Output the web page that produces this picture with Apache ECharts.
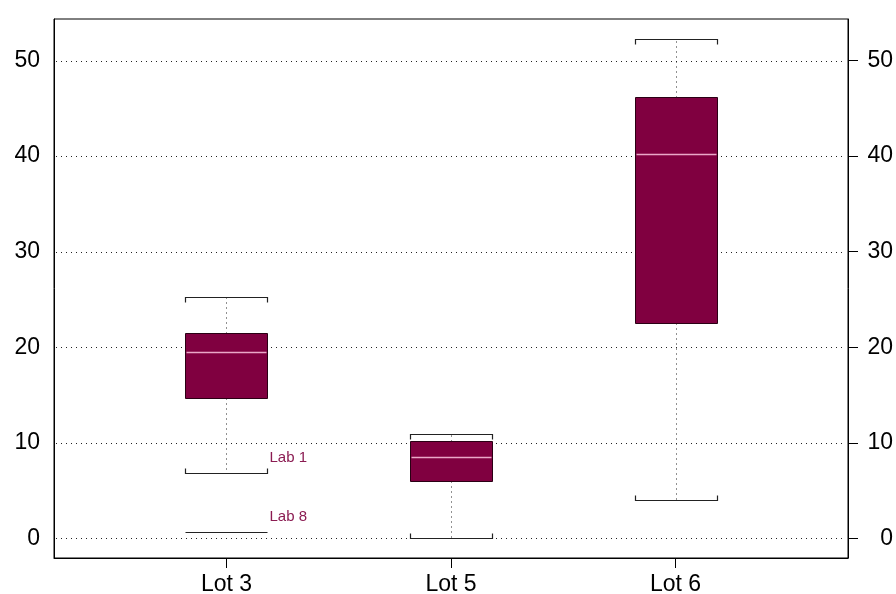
<!DOCTYPE html>
<html>
<head>
<meta charset="utf-8">
<script src="https://cdn.jsdelivr.net/npm/echarts@6/dist/echarts.min.js"></script>
<style>
  html, body { margin: 0; padding: 0; background: #fff; }
  #chart { width: 896px; height: 594px; }
</style>
</head>
<body>
<div id="chart"></div>
<script>
// box statistics per lot
const categories = ["Lot 3", "Lot 5", "Lot 6"];
const whiskerLow = [6.8, 0.0, 4.0];
const q1 = [14.7, 6.0, 22.5];
const median = [19.5, 8.5, 40.2];
const q3 = [21.5, 10.2, 46.2];
const whiskerHigh = [25.3, 10.9, 52.3];

// labelled points (index into categories)
const outlierLot = [0, 0];
const outlierValue = [6.8, 0.7];
const outlierLabel = ["Lab 1", "Lab 8"];

const yTicks = [0, 10, 20, 30, 40, 50];

const X_MIN = 0.232;
const X_MAX = 3.768;
const Y_MIN = -2.05;
const Y_MAX = 54.35;
const BOX_HALF = 41;
const FONT = "'Liberation Sans', Arial, sans-serif";
const BOX_COLOR = "#800040";

const chart = echarts.init(document.getElementById("chart"));

const boxData = categories.map((c, i) => [i + 1, whiskerLow[i], q1[i], median[i], q3[i], whiskerHigh[i]]);
const outlierData = outlierValue.map((v, i) => [outlierLot[i] + 1, v, outlierLabel[i]]);

function renderGrid(params, api) {
  const v = api.value(0);
  const a = api.coord([X_MIN, v]);
  const b = api.coord([X_MAX, v]);
  const y = Math.round(a[1]) + 0.5;
  return {
    type: "line",
    shape: { x1: a[0] + 2, y1: y, x2: b[0] - 2, y2: y },
    style: { stroke: "#222", lineWidth: 1, lineDash: [1, 4] },
    silent: true
  };
}

function renderBox(params, api) {
  const x = api.value(0);
  const c = Math.round(api.coord([x, 0])[0]) + 0.5;
  const yLow = Math.round(api.coord([x, api.value(1)])[1]) + 0.5;
  const yQ1 = Math.round(api.coord([x, api.value(2)])[1]) + 0.5;
  const yMed = Math.round(api.coord([x, api.value(3)])[1]) + 0.5;
  const yQ3 = Math.round(api.coord([x, api.value(4)])[1]) + 0.5;
  const yHigh = Math.round(api.coord([x, api.value(5)])[1]) + 0.5;
  const l = c - BOX_HALF, r = c + BOX_HALF;
  const dotted = { stroke: "#222", lineWidth: 1, lineDash: [1, 4] };
  const cap = { stroke: "#222", lineWidth: 1.2, fill: null };
  return {
    type: "group",
    children: [
      { type: "line", shape: { x1: c, y1: yQ3, x2: c, y2: yHigh }, style: dotted },
      { type: "line", shape: { x1: c, y1: yQ1, x2: c, y2: yLow }, style: dotted },
      { type: "polyline", shape: { points: [[l, yHigh + 5], [l, yHigh], [r, yHigh], [r, yHigh + 5]] }, style: cap },
      { type: "polyline", shape: { points: [[l, yLow - 5], [l, yLow], [r, yLow], [r, yLow - 5]] }, style: cap },
      { type: "rect", shape: { x: l, y: yQ3, width: r - l, height: yQ1 - yQ3 },
        style: { fill: BOX_COLOR, stroke: "#2a0014", lineWidth: 1 } },
      { type: "line", shape: { x1: l + 1, y1: yMed, x2: r - 1, y2: yMed },
        style: { stroke: "#eaa8c8", lineWidth: 1.4 } }
    ]
  };
}

function renderOutlier(params, api) {
  const x = api.value(0);
  const p = api.coord([x, api.value(1)]);
  const c = Math.round(p[0]) + 0.5;
  const y = Math.round(p[1]) + 0.5;
  return {
    type: "group",
    children: [
      { type: "line", shape: { x1: c - BOX_HALF, y1: y, x2: c + BOX_HALF, y2: y },
        style: { stroke: "#222", lineWidth: 1.2 } },
      { type: "text", x: c + BOX_HALF + 2, y: y - 16,
        style: { text: outlierLabel[params.dataIndex], fill: "#8b1c52", font: "15px " + FONT,
          textAlign: "left", textVerticalAlign: "middle" } }
    ]
  };
}

const yLabelBase = { fontSize: 23, color: "#000", fontFamily: FONT, customValues: yTicks };

chart.setOption({
  animation: false,
  backgroundColor: "#fff",
  grid: {
    left: 54, right: 48, top: 19, bottom: 36,
    outerBoundsMode: "none", containLabel: false,
    show: true, borderColor: "#000", borderWidth: 1
  },
  xAxis: {
    type: "value",
    min: X_MIN,
    max: X_MAX,
    splitLine: { show: false },
    axisLine: { show: true, onZero: false, lineStyle: { color: "#000", width: 1 } },
    axisTick: { show: true, length: 10, customValues: [1, 2, 3], lineStyle: { color: "#000" } },
    axisLabel: {
      customValues: [1, 2, 3],
      formatter: v => categories[Math.round(v) - 1] || "",
      fontSize: 23, color: "#000", fontFamily: FONT, margin: 15
    }
  },
  yAxis: [
    {
      type: "value",
      position: "left",
      min: Y_MIN,
      max: Y_MAX,
      splitLine: { show: false },
      axisLine: { show: true, onZero: false, lineStyle: { color: "#000" } },
      axisTick: { show: false },
      axisLabel: Object.assign({ margin: 14 }, yLabelBase)
    },
    {
      type: "value",
      position: "right",
      min: Y_MIN,
      max: Y_MAX,
      splitLine: { show: false },
      axisLine: { show: true, onZero: false, lineStyle: { color: "#000" } },
      axisTick: { show: true, length: 10, customValues: yTicks, lineStyle: { color: "#000" } },
      axisLabel: Object.assign({ margin: 45, align: "right" }, yLabelBase)
    }
  ],
  series: [
    {
      type: "custom",
      name: "grid",
      z: 1,
      data: yTicks.map(v => [v]),
      renderItem: renderGrid,
      silent: true
    },
    {
      type: "custom",
      name: "box",
      z: 3,
      data: boxData,
      renderItem: renderBox,
      encode: { x: 0, y: [1, 2, 3, 4, 5] }
    },
    {
      type: "custom",
      name: "outliers",
      z: 4,
      data: outlierData,
      renderItem: renderOutlier,
      encode: { x: 0, y: 1 }
    }
  ]
});
</script>
</body>
</html>
